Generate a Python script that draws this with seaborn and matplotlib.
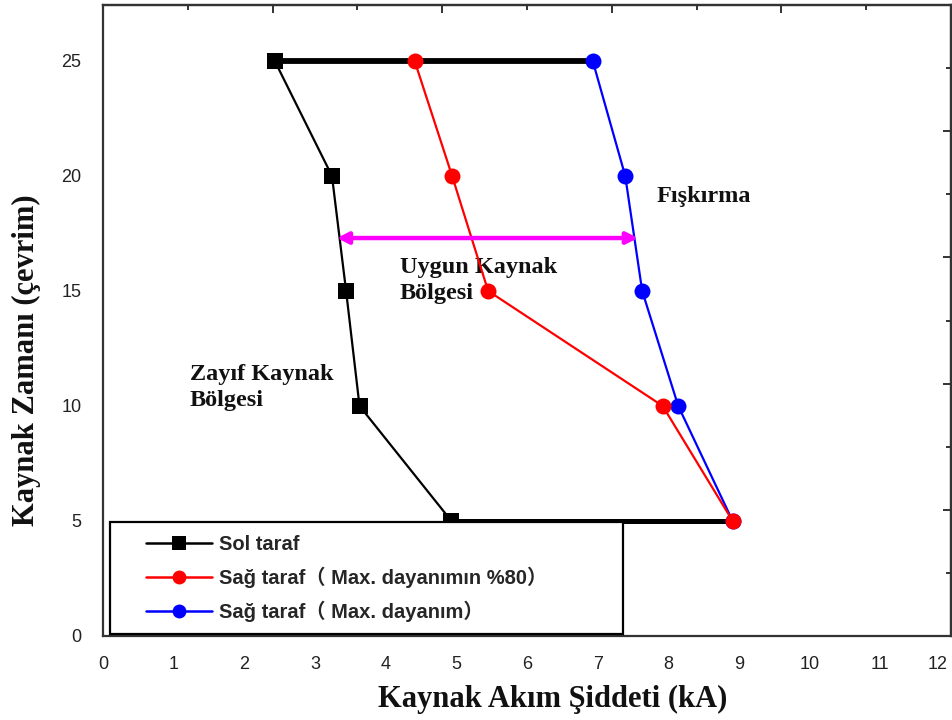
import matplotlib
matplotlib.use("Agg")
import matplotlib.pyplot as plt
import matplotlib.transforms as mtransforms
from matplotlib.patches import Rectangle
from matplotlib.ticker import MultipleLocator, FixedLocator, NullFormatter
import numpy as np
import pandas as pd
import seaborn as sns

# Welding time (cycles) and welding current (kA) boundaries
weld_time = [25, 20, 15, 10, 5]
left_side = [2.43, 3.24, 3.44, 3.63, 4.93]
right_side_80 = [4.41, 4.94, 5.45, 7.92, 8.91]
right_side_max = [6.93, 7.39, 7.63, 8.14, 8.91]

series_labels = [
    "Sol taraf",
    "Sağ taraf（ Max. dayanımın %80）",
    "Sağ taraf（ Max. dayanım）",
]
series_colors = ["#000000", "#ff0000", "#0000ff"]
series_markers = ["s", "o", "o"]

x_ticks = list(range(0, 13))
y_ticks = [0, 5, 10, 15, 20, 25]

sns.set_theme(style="white")
plt.rcParams["font.family"] = ["Liberation Sans", "Noto Sans CJK SC", "DejaVu Sans"]

fig = plt.figure(figsize=(9.52, 7.2), dpi=100)
ax = fig.add_axes([103 / 952, 1 - 636 / 720, 848 / 952, 631 / 720])

df = pd.DataFrame({
    "current": left_side + right_side_80 + right_side_max,
    "time": weld_time * 3,
    "series": [s for s in series_labels for _ in weld_time],
})

# boundary lines closing the weldable region at the top and bottom
ax.plot([left_side[0], right_side_max[0]], [weld_time[0], weld_time[0]],
        color="black", lw=4.2, solid_capstyle="butt", zorder=2)
ax.plot([left_side[-1], right_side_80[-1]], [weld_time[-1], weld_time[-1]],
        color="black", lw=3.6, solid_capstyle="butt", zorder=2)

zorders = {series_labels[0]: 3, series_labels[1]: 5, series_labels[2]: 4}
handles = []
for lab, col, mk in zip(series_labels, series_colors, series_markers):
    sub = df[df["series"] == lab]
    sns.lineplot(data=sub, x="current", y="time", sort=False, estimator=None,
                 color=col, marker=mk, markersize=11.5, markeredgewidth=0,
                 linewidth=1.6, ax=ax, zorder=zorders[lab], legend=False)
    handles.append(plt.Line2D([], [], color=col, marker=mk, markersize=10,
                              markeredgewidth=0, linewidth=1.8))

# optimum welding window arrow
arrow_y = 17.3
ax.annotate("", xy=(7.57, arrow_y), xytext=(3.31, arrow_y),
            arrowprops=dict(arrowstyle="<|-|>,head_length=0.55,head_width=0.28",
                            color="#ff00ff", lw=3.2, shrinkA=0, shrinkB=0),
            zorder=6)

serif = ["Liberation Serif", "DejaVu Serif"]
ax.text(7.84, 19.1, "Fışkırma", family=serif, fontweight="bold",
        fontsize=17.5, color="#111111", va="center", ha="left")
ax.text(4.2, 15.45, "Uygun Kaynak\nBölgesi", family=serif, fontweight="bold",
        fontsize=17.5, color="#111111", va="center", ha="left", linespacing=1.3)
ax.text(1.23, 10.8, "Zayıf Kaynak\nBölgesi", family=serif, fontweight="bold",
        fontsize=17.5, color="#111111", va="center", ha="left", linespacing=1.3)

ax.set_xlim(0, 12)
ax.set_ylim(0, 27.43)
ax.xaxis.set_major_locator(FixedLocator(x_ticks))
ax.xaxis.set_minor_locator(MultipleLocator(0.5))
ax.yaxis.set_major_locator(FixedLocator(y_ticks))
ax.yaxis.set_minor_locator(MultipleLocator(2.5))
ax.set_xticklabels([str(v) for v in x_ticks])
ax.set_yticklabels([str(v) for v in y_ticks])

spine_col = "#333333"
for sp in ax.spines.values():
    sp.set_visible(True)
    sp.set_color(spine_col)
    sp.set_linewidth(1.6)

ax.tick_params(axis="both", which="major", direction="out", length=8.5, width=1.4,
               color=spine_col, labelsize=13, labelcolor="#222222", pad=6)
ax.tick_params(axis="both", which="minor", direction="out", length=4.5, width=1.4,
               color=spine_col)
ax.tick_params(axis="y", which="major", pad=7)

# keep the last x tick label inside the figure edge
last = ax.get_xticklabels()[-1]
last.set_horizontalalignment("right")
last.set_transform(last.get_transform()
                   + mtransforms.ScaledTranslation(-3 / 100, 0, fig.dpi_scale_trans))

# mirrored top and right axes with inward ticks
top = ax.secondary_xaxis("top", functions=(lambda v: v / 12, lambda v: v * 12))
top.xaxis.set_major_locator(FixedLocator(np.arange(0, 1.01, 0.2)))
top.xaxis.set_minor_locator(FixedLocator(np.arange(0, 1.01, 0.1)))
top.xaxis.set_major_formatter(NullFormatter())
top.tick_params(which="major", direction="in", length=6, width=1.4, color=spine_col)
top.tick_params(which="minor", direction="in", length=3.5, width=1.4, color=spine_col)
top.spines["top"].set_linewidth(1.6)
top.spines["top"].set_color(spine_col)

right = ax.secondary_yaxis("right", functions=(lambda v: v / 27.43, lambda v: v * 27.43))
right.yaxis.set_major_locator(FixedLocator(np.arange(0, 1.01, 0.2)))
right.yaxis.set_minor_locator(FixedLocator(np.arange(0, 1.01, 0.1)))
right.yaxis.set_major_formatter(NullFormatter())
right.tick_params(which="major", direction="in", length=6, width=1.4, color=spine_col)
right.tick_params(which="minor", direction="in", length=3.5, width=1.4, color=spine_col)
right.spines["right"].set_linewidth(1.6)
right.spines["right"].set_color(spine_col)

ax.set_xlabel("Kaynak Akım Şiddeti (kA)", family=serif, fontweight="bold",
              fontsize=22, color="#111111")
ax.set_ylabel("Kaynak Zamanı (çevrim)", family=serif, fontweight="bold",
              fontsize=22, color="#111111")
ax.xaxis.set_label_coords(0.53, -0.078)
ax.yaxis.set_label_coords(-0.073, 0.437)

# legend box
ax.add_patch(Rectangle((0.008, 0.003), 0.605, 0.178, transform=ax.transAxes,
                       facecolor="white", edgecolor="black", lw=1.6, zorder=7))
leg = ax.legend(handles, series_labels, loc="upper left",
                bbox_to_anchor=(0.046, 0.167), frameon=False,
                prop={"family": ["Liberation Sans", "Noto Sans CJK SC"],
                      "weight": "bold", "size": 14.5},
                handlelength=3.3, handletextpad=0.3, labelspacing=0.65,
                borderpad=0.2, borderaxespad=0)
leg.set_zorder(8)

fig.savefig("out.png", dpi=100, facecolor="white")
